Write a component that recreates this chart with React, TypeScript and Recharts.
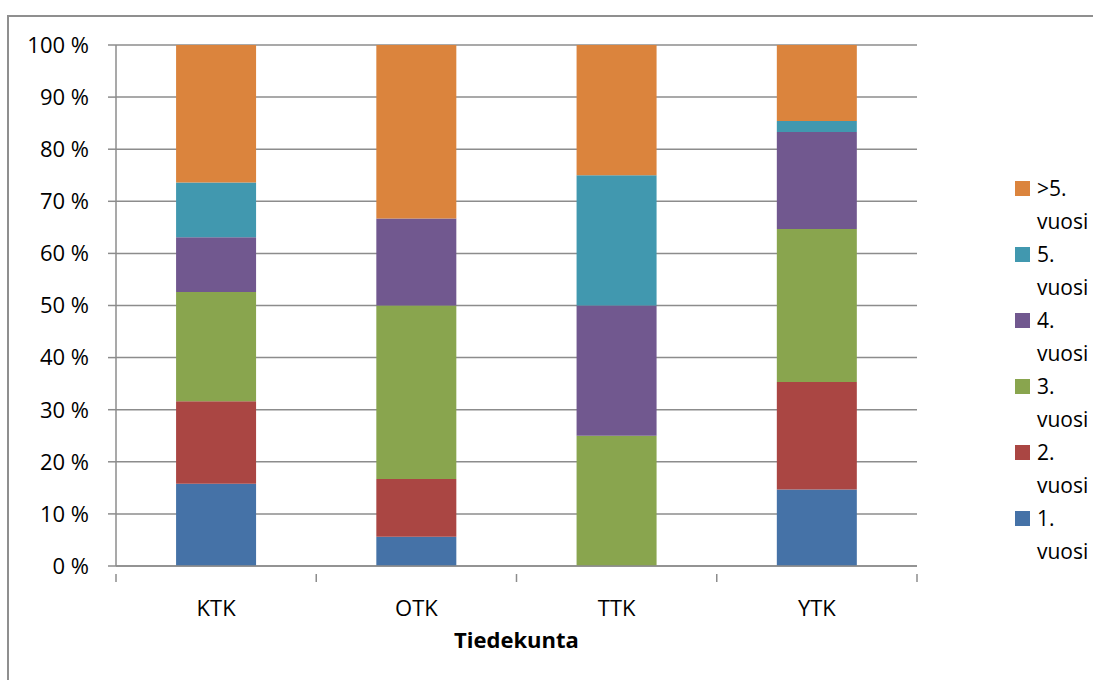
import React from 'react';
import { BarChart, Bar, XAxis, YAxis, CartesianGrid, Legend, Label } from 'recharts';

const categories = ['KTK', 'OTK', 'TTK', 'YTK'];
const year1 = [15.8, 5.6, 0, 14.7];
const year2 = [15.8, 11.1, 0, 20.6];
const year3 = [21.0, 33.3, 25, 29.4];
const year4 = [10.5, 16.7, 25, 18.6];
const year5 = [10.5, 0, 25, 2.1];
const yearOver5 = [26.4, 33.3, 25, 14.6];
const yTicks = [0, 10, 20, 30, 40, 50, 60, 70, 80, 90, 100];

const series = [
  { key: 'y1', name: '1. vuosi', color: '#4572A7', values: year1 },
  { key: 'y2', name: '2. vuosi', color: '#AA4643', values: year2 },
  { key: 'y3', name: '3. vuosi', color: '#89A54E', values: year3 },
  { key: 'y4', name: '4. vuosi', color: '#71588F', values: year4 },
  { key: 'y5', name: '5. vuosi', color: '#4198AF', values: year5 },
  { key: 'y6', name: '>5. vuosi', color: '#DB843D', values: yearOver5 },
];

const data = categories.map((c, i) => {
  const row: any = { name: c };
  series.forEach(s => { row[s.key] = s.values[i]; });
  return row;
});

const FONT = '"Open Sans", Calibri, sans-serif';
const AXIS_GRAY = '#8c8c8c';

// chart geometry
const W = 1093;
const H = 680;
const PLOT_LEFT = 116;
const PLOT_RIGHT = 917;
const HALF_BAND = (PLOT_RIGHT - PLOT_LEFT) / categories.length / 2;

function CategoryTick(props: any) {
  const { x, y, payload, index } = props;
  return (
    <g>
      {index === 0 && (
        <line x1={x - HALF_BAND} y1={y} x2={x - HALF_BAND} y2={y + 8} stroke={AXIS_GRAY} strokeWidth={1.5} />
      )}
      <line x1={x + HALF_BAND} y1={y} x2={x + HALF_BAND} y2={y + 8} stroke={AXIS_GRAY} strokeWidth={1.5} />
      <text x={x} y={y + 42} textAnchor="middle" fill="#000" fontSize={22} fontFamily={FONT}>
        {payload.value}
      </text>
    </g>
  );
}

function LegendBox() {
  const items = [...series].reverse();
  return (
    <div style={{ fontFamily: FONT, fontSize: 21, lineHeight: '33px', color: '#000', whiteSpace: 'nowrap' }}>
      {items.map(s => {
        const [num, word] = s.name.split(' ');
        return (
          <div key={s.key} style={{ position: 'relative', paddingLeft: 24 }}>
            <span
              style={{
                position: 'absolute',
                left: 2,
                top: 9,
                width: 15,
                height: 15,
                background: s.color,
              }}
            />
            <div>{num}</div>
            <div>{word}</div>
          </div>
        );
      })}
    </div>
  );
}

export default function App() {
  return (
    <div style={{ position: 'fixed', left: 0, top: 0, width: W, height: H, overflow: 'hidden', background: '#fff' }}>
      <div
        style={{
          position: 'absolute',
          left: 7,
          top: 15,
          width: W + 20,
          height: H + 20,
          borderLeft: '2px solid #8f8f8f',
          borderTop: '2px solid #8f8f8f',
        }}
      />
      <div style={{ position: 'absolute', left: 0, top: 0 }}>
        <BarChart
          width={W}
          height={H}
          data={data}
          margin={{ top: 45, right: W - PLOT_RIGHT - 80, left: 0, bottom: 0 }}
          barCategoryGap="30%"
        >
          <CartesianGrid vertical={false} stroke={AXIS_GRAY} strokeWidth={1.5} />
          <XAxis
            dataKey="name"
            height={114}
            axisLine={{ stroke: AXIS_GRAY, strokeWidth: 1.5 }}
            tickLine={false}
            tick={<CategoryTick />}
            interval={0}
          >
            <Label
              value="Tiedekunta"
              position="insideBottom"
              offset={32}
              style={{ fontFamily: FONT, fontSize: 22, fontWeight: 700, fill: '#000' }}
            />
          </XAxis>
          <YAxis
            width={PLOT_LEFT}
            domain={[0, 100]}
            ticks={yTicks}
            allowDataOverflow
            tickFormatter={(v: number) => `${v} %`}
            axisLine={{ stroke: AXIS_GRAY, strokeWidth: 1.5 }}
            tickLine={{ stroke: AXIS_GRAY, strokeWidth: 1.5 }}
            tickSize={8}
            tickMargin={19}
            tick={{ fill: '#000', fontSize: 22, fontFamily: FONT }}
          />
          <Legend
            layout="vertical"
            align="right"
            verticalAlign="middle"
            width={80}
            wrapperStyle={{ top: 172, right: 0, left: 'auto' }}
            content={<LegendBox />}
          />
          {series.map(s => (
            <Bar
              key={s.key}
              dataKey={s.key}
              name={s.name}
              stackId="a"
              fill={s.color}
              isAnimationActive={false}
            />
          ))}
        </BarChart>
      </div>
    </div>
  );
}
